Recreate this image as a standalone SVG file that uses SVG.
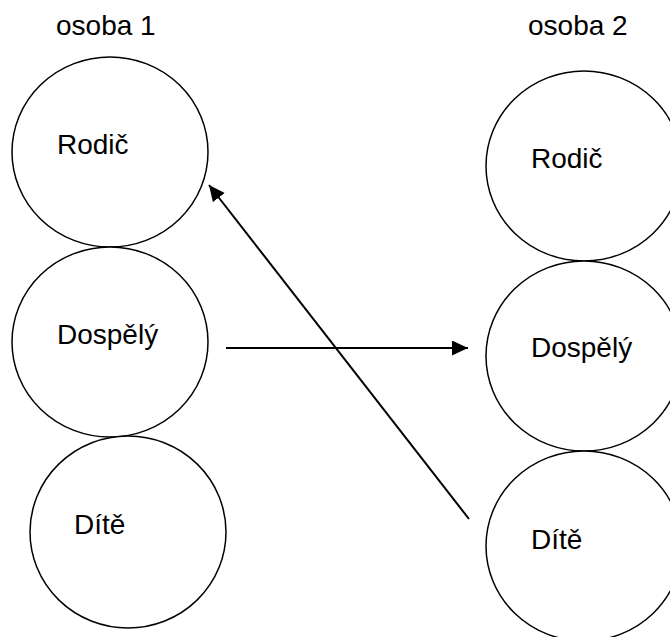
<svg xmlns="http://www.w3.org/2000/svg" width="670" height="637" viewBox="0 0 670 637">
<style>
.n{fill:#fff;stroke:#000;stroke-width:1.5}
.t{font-family:"Liberation Sans",Arial,sans-serif;font-size:28px;fill:#000}
.c{stroke:#000;stroke-width:2;fill:none}
</style>
<defs>
<marker id="ah" markerUnits="userSpaceOnUse" markerWidth="18" markerHeight="16" refX="16" refY="7.5" orient="auto">
<path d="M0,0 L16,7.5 L0,15 Z" fill="#000"/>
</marker>
</defs>
<rect width="670" height="637" fill="#fff"/>
<text class="t" x="56" y="35">osoba 1</text>
<text class="t" x="528" y="35">osoba 2</text>
<g id="p1-rodic"><ellipse class="n" cx="110" cy="152" rx="98" ry="95"/><text class="t" x="57" y="154">Rodič</text></g>
<g id="p1-dospely"><ellipse class="n" cx="110" cy="342" rx="98" ry="95"/><text class="t" x="57" y="344">Dospělý</text></g>
<g id="p1-dite"><ellipse class="n" cx="128" cy="532" rx="98" ry="96"/><text class="t" x="74" y="534">Dítě</text></g>
<g id="p2-rodic"><ellipse class="n" cx="584" cy="166" rx="98" ry="95"/><text class="t" x="531" y="168">Rodič</text></g>
<g id="p2-dospely"><ellipse class="n" cx="584" cy="356" rx="98" ry="95"/><text class="t" x="531" y="357">Dospělý</text></g>
<g id="p2-dite"><ellipse class="n" cx="584" cy="546" rx="98" ry="95"/><text class="t" x="531" y="549">Dítě</text></g>
<g id="connectors">
<line class="c" x1="226" y1="348" x2="468" y2="348" marker-end="url(#ah)"/>
<line class="c" x1="469" y1="519" x2="209" y2="185" marker-end="url(#ah)"/>
</g>
</svg>
